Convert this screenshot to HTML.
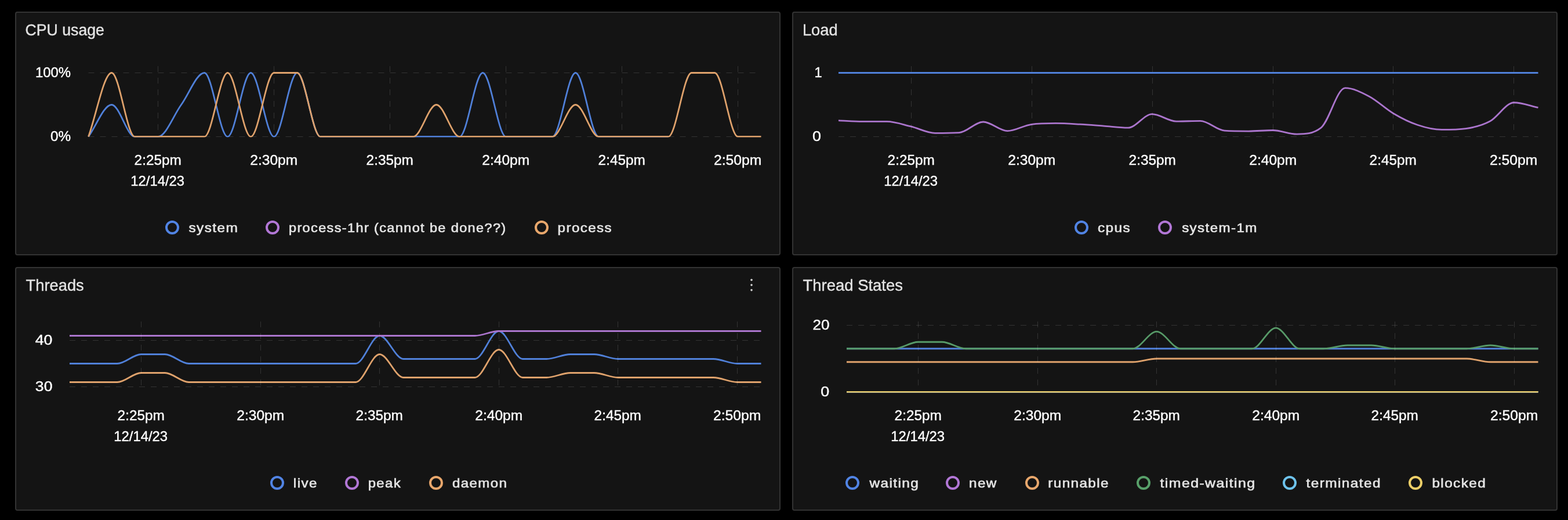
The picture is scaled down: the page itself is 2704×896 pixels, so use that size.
<!DOCTYPE html>
<html lang="en">
<head>
<meta charset="utf-8">
<title>JVM metrics dashboard</title>
<style>
html,body{margin:0;padding:0;background:#000000;}
body{position:relative;width:100vw;height:calc(100vw * 896 / 2704);overflow:hidden;font-family:"Liberation Sans", Arial, Helvetica, sans-serif;}
main{display:block;}
.panel{position:absolute;width:calc(100vw * 1320 / 2704);height:calc(100vw * 420 / 2704);margin:0;padding:0;}
.p1,.p3{left:calc(100vw * 26 / 2704);}
.p2,.p4{left:calc(100vw * 1366 / 2704);}
.p1,.p2{top:calc(100vw * 20 / 2704);}
.p3,.p4{top:calc(100vw * 460 / 2704);}
svg{display:block;width:100%;height:100%;font-family:"Liberation Sans", Arial, Helvetica, sans-serif;}
.card{fill:#141414;stroke:#333333;stroke-width:2;}
.ti{font-size:27.3px;fill:#e2e2e2;stroke:#e2e2e2;stroke-width:0.4;}
.ax{font-size:23.6px;fill:#ffffff;stroke:#ffffff;stroke-width:0.4;}
.lg{font-size:22.5px;fill:#e4e4e4;stroke:#e4e4e4;stroke-width:0.65;letter-spacing:1.3px;}
.g{fill:none;stroke:rgba(255,255,255,0.135);stroke-width:1;stroke-dasharray:10 10;}
.l{fill:none;stroke-width:2.8;stroke-linejoin:round;stroke-linecap:butt;}
.lc{fill:none;stroke-width:4;}
</style>
</head>
<body>
<main>
<section class="panel p1" aria-label="CPU usage">
<svg viewBox="26 20 1320 420" preserveAspectRatio="none" role="img">
<rect class="card" x="27" y="21" width="1318" height="418" rx="3"/>
<path class="g" d="M152.5,235.5H1312.5"/>
<path class="g" d="M152.5,125.5H1312.5"/>
<clipPath id="c1"><rect x="150.5" y="111" width="1164" height="125.5"/></clipPath>
<g clip-path="url(#c1)">
<path class="l" stroke="#5080d9" d="M152.5,235.5C165.83,217.17,179.17,180.5,192.5,180.5C205.83,180.5,219.17,235.5,232.5,235.5H272.5C285.83,235.5,299.17,198.83,312.5,180.5C325.83,162.17,339.17,125.5,352.5,125.5C365.83,125.5,379.17,235.5,392.5,235.5C405.83,235.5,419.17,125.5,432.5,125.5C445.83,125.5,459.17,235.5,472.5,235.5C485.83,235.5,499.17,125.5,512.5,125.5C525.83,125.5,539.17,235.5,552.5,235.5H792.5C805.83,235.5,819.17,125.5,832.5,125.5C845.83,125.5,859.17,235.5,872.5,235.5H952.5C965.83,235.5,979.17,125.5,992.5,125.5C1005.83,125.5,1019.17,235.5,1032.5,235.5H1152.5"/>
<path class="l" stroke="#dfa26c" d="M152.5,235.5C165.83,198.83,179.17,125.5,192.5,125.5C205.83,125.5,219.17,235.5,232.5,235.5H352.5C365.83,235.5,379.17,125.5,392.5,125.5C405.83,125.5,419.17,235.5,432.5,235.5C445.83,235.5,459.17,125.5,472.5,125.5H512.5C525.83,125.5,539.17,235.5,552.5,235.5H712.5C725.83,235.5,739.17,180.5,752.5,180.5C765.83,180.5,779.17,235.5,792.5,235.5H952.5C965.83,235.5,979.17,180.5,992.5,180.5C1005.83,180.5,1019.17,235.5,1032.5,235.5H1152.5C1165.83,235.5,1179.17,125.5,1192.5,125.5H1232.5C1245.83,125.5,1259.17,235.5,1272.5,235.5H1312.5"/>
</g>
<path class="g" d="M272.5,114V234"/>
<path class="g" d="M472.5,114V234"/>
<path class="g" d="M672.5,114V234"/>
<path class="g" d="M872.5,114V234"/>
<path class="g" d="M1072.5,114V234"/>
<path class="g" d="M1272.5,114V234"/>
<circle class="lc" cx="297" cy="392" r="10" stroke="#5184e4"/>
<circle class="lc" cx="470" cy="392" r="10" stroke="#b277d6"/>
<circle class="lc" cx="934" cy="392" r="10" stroke="#e8a76c"/>
<text class="ti" transform="translate(43.58 61.2) scale(0.9767 1)">CPU usage</text>
<text class="lg" transform="translate(325.43 400.2) scale(1.0859 1)">system</text>
<text class="lg" transform="translate(497.95 400.2) scale(1.046 1)">process-1hr (cannot be done??)</text>
<text class="lg" transform="translate(961.62 400.2) scale(1.0753 1)">process</text>
<text class="ax" transform="translate(60.98 133.2) scale(1.0129 1)">100%</text>
<text class="ax" transform="translate(87.03 243.2) scale(1.029 1)">0%</text>
<text class="ax" transform="translate(231.62 283.6) scale(1.0314 1)">2:25pm</text>
<text class="ax" transform="translate(431.26 283.6) scale(1.0405 1)">2:30pm</text>
<text class="ax" transform="translate(631.62 283.6) scale(1.0314 1)">2:35pm</text>
<text class="ax" transform="translate(831.26 283.6) scale(1.0405 1)">2:40pm</text>
<text class="ax" transform="translate(1031.62 283.6) scale(1.0314 1)">2:45pm</text>
<text class="ax" transform="translate(1230.95 283.6) scale(1.0484 1)">2:50pm</text>
<text class="ax" transform="translate(225.28 319.6) scale(1.0101 1)">12/14/23</text>
</svg>
</section>
<section class="panel p2" aria-label="Load">
<svg viewBox="1366 20 1320 420" preserveAspectRatio="none" role="img">
<rect class="card" x="1367" y="21" width="1318" height="418" rx="3"/>
<path class="g" d="M1446,235.5H2652.5"/>
<path class="g" d="M1446,125.5H2652.5"/>
<clipPath id="c2"><rect x="1444" y="111" width="1210.5" height="125.5"/></clipPath>
<g clip-path="url(#c2)">
<path class="l" stroke="#5080d9" d="M1446,125.5H2652.5"/>
<path class="l" stroke="#ab75cd" d="M1446,207.56C1459.87,208.18,1473.74,209.43,1487.6,209.43H1529.21C1543.07,209.43,1556.94,214.58,1570.81,217.9C1584.68,221.22,1598.55,229.34,1612.41,229.34C1626.28,229.34,1640.15,229.34,1654.02,228.57C1667.89,227.8,1681.75,209.98,1695.62,209.98C1709.49,209.98,1723.36,225.6,1737.22,225.6C1751.09,225.6,1764.96,216.14,1778.83,214.27C1792.7,212.4,1806.56,212.4,1820.43,212.4C1834.3,212.4,1848.17,213.37,1862.03,214.16C1875.9,214.95,1889.77,216.12,1903.64,217.13C1917.51,218.14,1931.37,220.21,1945.24,220.21C1959.11,220.21,1972.98,196.67,1986.84,196.67C2000.71,196.67,2014.58,209.1,2028.45,209.1C2042.32,209.1,2056.18,208.44,2070.05,208.44C2083.92,208.44,2097.79,224.28,2111.66,225.16C2125.52,226.04,2139.39,226.04,2153.26,226.04C2167.13,226.04,2180.99,224.5,2194.86,224.5C2208.73,224.5,2222.6,231.1,2236.47,231.1C2250.33,231.1,2264.2,231.1,2278.07,220.21C2291.94,209.32,2305.8,151.68,2319.67,151.68C2333.54,151.68,2347.41,158.9,2361.28,166.2C2375.14,173.5,2389.01,187.28,2402.88,195.46C2416.75,203.64,2430.61,210.6,2444.48,215.26C2458.35,219.92,2472.22,223.4,2486.09,223.4C2499.95,223.4,2513.82,223.4,2527.69,221.53C2541.56,219.66,2555.43,216.56,2569.29,209.1C2583.16,201.64,2597.03,176.76,2610.9,176.76C2624.76,176.76,2638.63,182.55,2652.5,185.45"/>
</g>
<path class="g" d="M1571.5,114V234"/>
<path class="g" d="M1779.5,114V234"/>
<path class="g" d="M1987.5,114V234"/>
<path class="g" d="M2195.5,114V234"/>
<path class="g" d="M2402.5,114V234"/>
<path class="g" d="M2610.5,114V234"/>
<circle class="lc" cx="1865" cy="392" r="10" stroke="#5184e4"/>
<circle class="lc" cx="2009" cy="392" r="10" stroke="#b277d6"/>
<text class="ti" x="1383.9" y="61.2">Load</text>
<text class="lg" transform="translate(1892.96 400.2) scale(1.0851 1)">cpus</text>
<text class="lg" transform="translate(2038.13 400.2) scale(1.0748 1)">system-1m</text>
<text class="ax" x="1404.45" y="133.2">1</text>
<text class="ax" transform="translate(1401.05 243.2) scale(1.14 1)">0</text>
<text class="ax" transform="translate(1530.62 283.6) scale(1.0314 1)">2:25pm</text>
<text class="ax" transform="translate(1738.26 283.6) scale(1.0405 1)">2:30pm</text>
<text class="ax" transform="translate(1946.62 283.6) scale(1.0314 1)">2:35pm</text>
<text class="ax" transform="translate(2154.26 283.6) scale(1.0405 1)">2:40pm</text>
<text class="ax" transform="translate(2361.62 283.6) scale(1.0314 1)">2:45pm</text>
<text class="ax" transform="translate(2568.95 283.6) scale(1.0484 1)">2:50pm</text>
<text class="ax" transform="translate(1524.28 319.6) scale(1.0101 1)">12/14/23</text>
</svg>
</section>
<section class="panel p3" aria-label="Threads">
<svg viewBox="26 460 1320 420" preserveAspectRatio="none" role="img">
<rect class="card" x="27" y="461" width="1318" height="418" rx="3"/>
<circle cx="1296" cy="482.35" r="1.8" fill="#d4d4d4"/>
<circle cx="1296" cy="491.1" r="1.8" fill="#d4d4d4"/>
<circle cx="1296" cy="499.85" r="1.8" fill="#d4d4d4"/>
<path class="g" d="M120,666.5H1312.5"/>
<path class="g" d="M120,586.5H1312.5"/>
<clipPath id="c3"><rect x="118" y="551" width="1196.5" height="125.5"/></clipPath>
<g clip-path="url(#c3)">
<path class="l" stroke="#5080d9" d="M120,626.5H202.24C215.95,626.5,229.66,610.5,243.36,610.5H284.48C298.19,610.5,311.9,626.5,325.6,626.5H613.45C627.16,626.5,640.86,578.5,654.57,578.5C668.28,578.5,681.98,618.5,695.69,618.5H819.05C832.76,618.5,846.47,570.5,860.17,570.5C873.88,570.5,887.59,618.5,901.29,618.5H942.41C956.12,618.5,969.83,610.5,983.53,610.5H1024.66C1038.36,610.5,1052.07,618.5,1065.78,618.5H1230.26C1243.97,618.5,1257.67,626.5,1271.38,626.5H1312.5"/>
<path class="l" stroke="#ab75cd" d="M120,578.5H819.05C832.76,578.5,846.47,570.5,860.17,570.5H1312.5"/>
<path class="l" stroke="#dfa26c" d="M120,658.5H202.24C215.95,658.5,229.66,642.5,243.36,642.5H284.48C298.19,642.5,311.9,658.5,325.6,658.5H613.45C627.16,658.5,640.86,610.5,654.57,610.5C668.28,610.5,681.98,650.5,695.69,650.5H819.05C832.76,650.5,846.47,602.5,860.17,602.5C873.88,602.5,887.59,650.5,901.29,650.5H942.41C956.12,650.5,969.83,642.5,983.53,642.5H1024.66C1038.36,642.5,1052.07,650.5,1065.78,650.5H1230.26C1243.97,650.5,1257.67,658.5,1271.38,658.5H1312.5"/>
</g>
<path class="g" d="M243.5,554V674"/>
<path class="g" d="M449.5,554V674"/>
<path class="g" d="M654.5,554V674"/>
<path class="g" d="M860.5,554V674"/>
<path class="g" d="M1065.5,554V674"/>
<path class="g" d="M1271.5,554V674"/>
<circle class="lc" cx="478" cy="832" r="10" stroke="#5184e4"/>
<circle class="lc" cx="607" cy="832" r="10" stroke="#b277d6"/>
<circle class="lc" cx="752" cy="832" r="10" stroke="#e8a76c"/>
<text class="ti" x="44.6" y="501.2">Threads</text>
<text class="lg" transform="translate(505.85 840.2) scale(1.0769 1)">live</text>
<text class="lg" transform="translate(634.64 840.2) scale(1.0622 1)">peak</text>
<text class="lg" transform="translate(779.96 840.2) scale(1.0701 1)">daemon</text>
<text class="ax" transform="translate(60.72 594.2) scale(1.1327 1)">40</text>
<text class="ax" transform="translate(60.85 674.2) scale(1.1273 1)">30</text>
<text class="ax" transform="translate(202.62 723.6) scale(1.0314 1)">2:25pm</text>
<text class="ax" transform="translate(408.26 723.6) scale(1.0405 1)">2:30pm</text>
<text class="ax" transform="translate(613.62 723.6) scale(1.0314 1)">2:35pm</text>
<text class="ax" transform="translate(819.26 723.6) scale(1.0405 1)">2:40pm</text>
<text class="ax" transform="translate(1024.62 723.6) scale(1.0314 1)">2:45pm</text>
<text class="ax" transform="translate(1229.95 723.6) scale(1.0484 1)">2:50pm</text>
<text class="ax" transform="translate(196.28 759.6) scale(1.0101 1)">12/14/23</text>
</svg>
</section>
<section class="panel p4" aria-label="Thread States">
<svg viewBox="1366 460 1320 420" preserveAspectRatio="none" role="img">
<rect class="card" x="1367" y="461" width="1318" height="418" rx="3"/>
<path class="g" d="M1460,675.5H2652.5"/>
<path class="g" d="M1460,560.5H2652.5"/>
<clipPath id="c4"><rect x="1458" y="551" width="1196.5" height="125.5"/></clipPath>
<g clip-path="url(#c4)">
<path class="l" stroke="#5080d9" d="M1460,600.75H2652.5"/>
<path class="l" stroke="#ab75cd" d="M1460,675.5H2652.5"/>
<path class="l" stroke="#dfa26c" d="M1460,623.75H1953.45C1967.16,623.75,1980.86,618,1994.57,618H2529.14C2542.84,618,2556.55,623.75,2570.26,623.75H2652.5"/>
<path class="l" stroke="#579a68" d="M1460,600.75H1542.24C1555.95,600.75,1569.66,589.25,1583.36,589.25H1624.48C1638.19,589.25,1651.9,600.75,1665.6,600.75H1953.45C1967.16,600.75,1980.86,571.42,1994.57,571.42C2008.28,571.42,2021.98,600.75,2035.69,600.75H2159.05C2172.76,600.75,2186.47,565.1,2200.17,565.1C2213.88,565.1,2227.59,600.75,2241.29,600.75H2282.41C2296.12,600.75,2309.83,595,2323.53,595H2364.66C2378.36,595,2392.07,600.75,2405.78,600.75H2529.14C2542.84,600.75,2556.55,595,2570.26,595C2583.97,595,2597.67,600.75,2611.38,600.75H2652.5"/>
<path class="l" stroke="#6dbce3" d="M1460,675.5H2652.5"/>
<path class="l" stroke="#e5c969" d="M1460,675.5H2652.5"/>
</g>
<path class="g" d="M1583.5,554V674"/>
<path class="g" d="M1789.5,554V674"/>
<path class="g" d="M1994.5,554V674"/>
<path class="g" d="M2200.5,554V674"/>
<path class="g" d="M2405.5,554V674"/>
<path class="g" d="M2611.5,554V674"/>
<circle class="lc" cx="1470" cy="832" r="10" stroke="#5184e4"/>
<circle class="lc" cx="1643" cy="832" r="10" stroke="#b277d6"/>
<circle class="lc" cx="1780" cy="832" r="10" stroke="#e8a76c"/>
<circle class="lc" cx="1972" cy="832" r="10" stroke="#58a06a"/>
<circle class="lc" cx="2224" cy="832" r="10" stroke="#6ec3ec"/>
<circle class="lc" cx="2441" cy="832" r="10" stroke="#edcf68"/>
<text class="ti" transform="translate(1384.6 501.2) scale(1.0056 1)">Thread States</text>
<text class="lg" transform="translate(1499.44 840.2) scale(1.0835 1)">waiting</text>
<text class="lg" transform="translate(1670.95 840.2) scale(1.0814 1)">new</text>
<text class="lg" transform="translate(1807.35 840.2) scale(1.0776 1)">runnable</text>
<text class="lg" transform="translate(2000.5 840.2) scale(1.1041 1)">timed-waiting</text>
<text class="lg" transform="translate(2252.6 840.2) scale(1.0846 1)">terminated</text>
<text class="lg" transform="translate(2469.42 840.2) scale(1.0811 1)">blocked</text>
<text class="ax" transform="translate(1401.39 568.2) scale(1.1061 1)">20</text>
<text class="ax" transform="translate(1415.35 683.2) scale(1.14 1)">0</text>
<text class="ax" transform="translate(1542.62 723.6) scale(1.0314 1)">2:25pm</text>
<text class="ax" transform="translate(1748.26 723.6) scale(1.0405 1)">2:30pm</text>
<text class="ax" transform="translate(1953.62 723.6) scale(1.0314 1)">2:35pm</text>
<text class="ax" transform="translate(2159.26 723.6) scale(1.0405 1)">2:40pm</text>
<text class="ax" transform="translate(2364.62 723.6) scale(1.0314 1)">2:45pm</text>
<text class="ax" transform="translate(2569.95 723.6) scale(1.0484 1)">2:50pm</text>
<text class="ax" transform="translate(1536.28 759.6) scale(1.0101 1)">12/14/23</text>
</svg>
</section>
</main>
</body>
</html>
